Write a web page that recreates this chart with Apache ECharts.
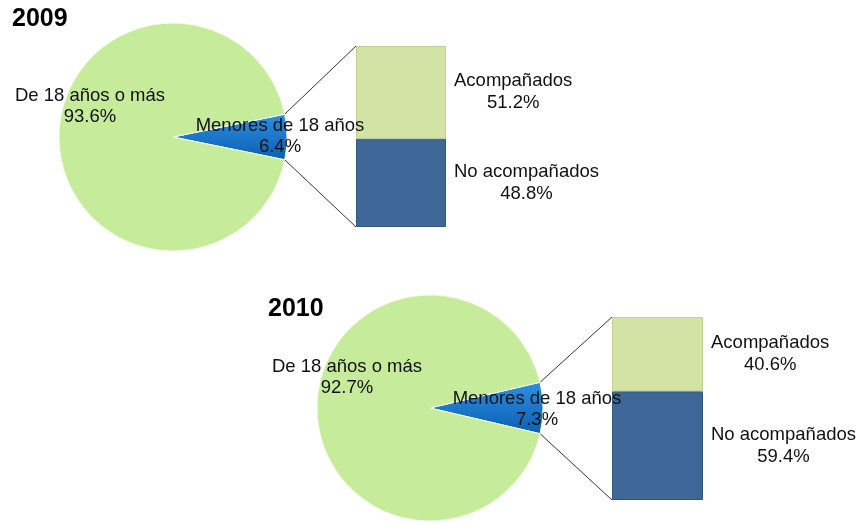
<!DOCTYPE html>
<html>
<head>
<meta charset="utf-8">
<script src="https://cdn.jsdelivr.net/npm/echarts@6/dist/echarts.min.js"></script>
<style>
    html, body { margin: 0; padding: 0; background: #fff; }
    #chart { width: 860px; height: 525px; }
</style>
</head>
<body>
<div id="chart"></div>
<script>
// data
const years = ["2009", "2010"];
const pieNames = ["Menores de 18 años", "De 18 años o más"];
const menores = [6.4, 7.3];
const mayores = [93.6, 92.7];
const barNames = ["No acompañados", "Acompañados"];
const noAcomp = [48.8, 59.4];
const acomp = [51.2, 40.6];

// layout (pixels)
const pies = [
    { center: [173, 137], r: 114, labels: [[280, 136], [90, 106]] },
    { center: [430, 408], r: 113, labels: [[537, 409], [347, 377]] },
];
const bars = [
    { left: 356, top: 46, width: 90, height: 181 },
    { left: 612, top: 317, width: 91, height: 183 },
];

const font = "Liberation Sans, Arial, sans-serif";
const pieGreen = "#c6eb9b";
const pieBlue = new echarts.graphic.LinearGradient(0, 0, 0, 1, [
    { offset: 0, color: "#2d8fe3" },
    { offset: 1, color: "#0b5fb2" },
]);
const barGreen = "#d3e3a6";
const barBlue = "#3e6798";

let chart = echarts.init(document.getElementById("chart"));

let series = [];
let grids = [];
let xAxes = [];
let yAxes = [];

years.forEach((y, i) => {
    let p = pies[i];
    series.push({
        type: "pie",
        center: p.center,
        radius: p.r,
        startAngle: (menores[i] * 3.6) / 2,
        clockwise: true,
        silent: true,
        labelLine: { show: false },
        label: {
            show: true,
            position: "inside",
            formatter: "{b}\n{c}%",
            color: "#111",
            fontFamily: font,
            fontSize: 18.5,
            lineHeight: 21,
        },
        labelLayout: (params) => {
            let pos = p.labels[params.dataIndex];
            return { x: pos[0], y: pos[1], align: "center", verticalAlign: "middle" };
        },
        itemStyle: { borderColor: "#f4fbe8", borderWidth: 1 },
        data: [
            { name: pieNames[0], value: menores[i], itemStyle: { color: pieBlue } },
            { name: pieNames[1], value: mayores[i], itemStyle: { color: pieGreen } },
        ],
    });

    let b = bars[i];
    grids.push({ left: b.left, top: b.top, width: b.width, height: b.height });
    xAxes.push({ type: "category", gridIndex: i, data: [y], show: false });
    yAxes.push({ type: "value", gridIndex: i, min: 0, max: 100, show: false });

    [noAcomp, acomp].forEach((vals, k) => {
        series.push({
            type: "bar",
            name: barNames[k],
            xAxisIndex: i,
            yAxisIndex: i,
            stack: "s" + i,
            barWidth: "100%",
            silent: true,
            itemStyle: {
                color: k == 0 ? barBlue : barGreen,
                borderColor: k == 0 ? "#33577f" : "#bfd190",
                borderWidth: 1,
            },
            label: {
                show: true,
                position: "right",
                distance: 8,
                formatter: "{a}\n{c}%",
                color: "#111",
                fontFamily: font,
                fontSize: 18.5,
                lineHeight: 22,
            },
            labelLayout: (params) => {
                let r = params.labelRect;
                return {
                    x: r.x + r.width / 2,
                    y: r.y + r.height / 2,
                    align: "center",
                    verticalAlign: "middle",
                };
            },
            data: [vals[i]],
        });
    });
});

chart.setOption({
    animation: false,
    title: [
        { text: years[0], left: 7, top: 2 },
        { text: years[1], left: 263, top: 292 },
    ].map((t) => ({
        ...t,
        textStyle: { fontFamily: font, fontSize: 25, fontWeight: "bold", color: "#000" },
    })),
    grid: grids,
    xAxis: xAxes,
    yAxis: yAxes,
    series: series,
});

// connector lines from the small slice edges to the bar corners
let lines = [];
years.forEach((y, i) => {
    let p = pies[i];
    let half = ((menores[i] * 3.6) / 2) * Math.PI / 180;
    let ex = p.center[0] + p.r * Math.cos(half);
    let eyTop = p.center[1] - p.r * Math.sin(half);
    let eyBot = p.center[1] + p.r * Math.sin(half);
    let top = chart.convertToPixel({ yAxisIndex: i }, 100);
    let bottom = chart.convertToPixel({ yAxisIndex: i }, 0);
    let bx = bars[i].left;
    lines.push(
        { type: "line", shape: { x1: ex, y1: eyTop, x2: bx, y2: top }, style: { stroke: "#333", lineWidth: 1 } },
        { type: "line", shape: { x1: ex, y1: eyBot, x2: bx, y2: bottom }, style: { stroke: "#333", lineWidth: 1 } }
    );
});
chart.setOption({ graphic: lines });
</script>
</body>
</html>
